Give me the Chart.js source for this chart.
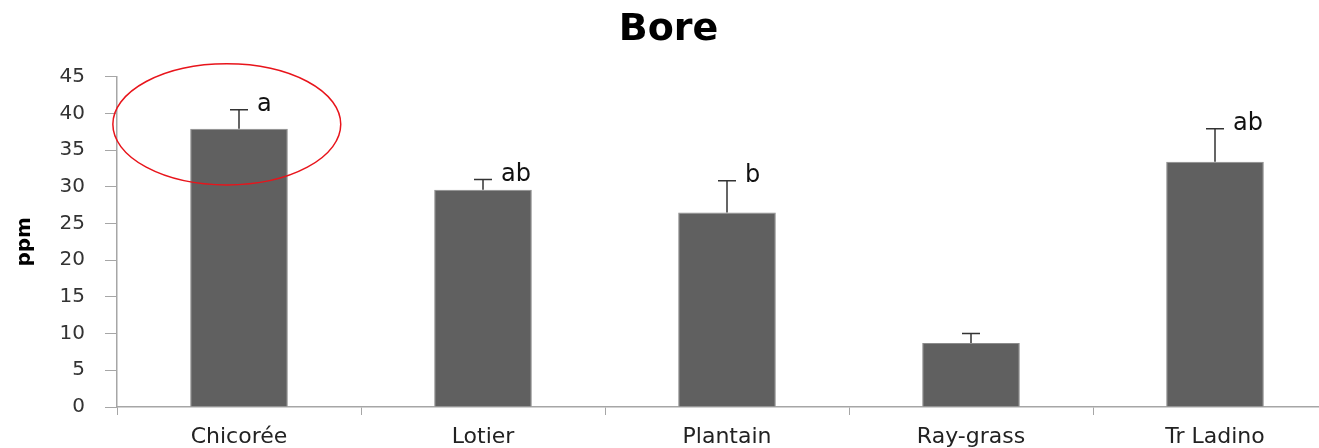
<!DOCTYPE html>
<html>
<head>
<meta charset="utf-8">
<script src="https://cdn.jsdelivr.net/npm/chart.js@4"></script>
<style>
  body { margin: 0; overflow: hidden; background: #fff; }
  #wrap { width: 1340px; height: 448px; }
</style>
</head>
<body>
<div id="wrap"><canvas id="boreChart" width="1340" height="448"></canvas></div>
<script>
// Data
const categories = ['Chicorée', 'Lotier', 'Plantain', 'Ray-grass', 'Tr Ladino'];
const boreValues = [37.9, 29.6, 26.5, 8.7, 33.4];
const boreErrors = [2.6, 1.4, 4.3, 1.3, 4.5];
const groupLetters = ['a', 'ab', 'b', '', 'ab'];
const yTicks = [0, 5, 10, 15, 20, 25, 30, 35, 40, 45];

// error bars, letters and the red circle around Chicorée
const extrasPlugin = {
  id: 'extras',
  afterDatasetsDraw(chart) {
    const { ctx, scales: { x, y } } = chart;
    const meta = chart.getDatasetMeta(0);
    ctx.save();
    meta.data.forEach((bar, i) => {
      const top = y.getPixelForValue(boreValues[i] + boreErrors[i]);
      ctx.strokeStyle = '#333';
      ctx.lineWidth = 1.5;
      ctx.beginPath();
      ctx.moveTo(bar.x, bar.y);
      ctx.lineTo(bar.x, top);
      ctx.moveTo(bar.x - 9, top);
      ctx.lineTo(bar.x + 9, top);
      ctx.stroke();

      if (groupLetters[i]) {
        ctx.fillStyle = '#111';
        ctx.font = '24px "DejaVu Sans"';
        ctx.textAlign = 'left';
        ctx.textBaseline = 'middle';
        ctx.fillText(groupLetters[i], bar.x + 18, top - 5);
      }
    });

    // red ellipse
    const catW = x.getPixelForValue(1) - x.getPixelForValue(0);
    const cx = x.getPixelForValue(0) - 0.05 * catW;
    const cy = y.getPixelForValue(38.5);
    const ry = y.getPixelForValue(38.5 - 8.25) - cy;
    ctx.strokeStyle = '#e8141b';
    ctx.lineWidth = 1.5;
    ctx.beginPath();
    ctx.ellipse(cx, cy, 0.467 * catW, ry, 0, 0, Math.PI * 2);
    ctx.stroke();
    ctx.restore();
  }
};

const ctx = document.getElementById('boreChart').getContext('2d');

new Chart(ctx, {
  type: 'bar',
  data: {
    labels: categories,
    datasets: [{
      label: 'Bore',
      data: boreValues,
      backgroundColor: '#606060',
      borderColor: '#8c8c8c',
      borderWidth: 1,
      categoryPercentage: 1,
      barPercentage: 0.4,
    }],
  },
  options: {
    responsive: false,
    animation: false,
    layout: { padding: { left: 0, right: 3, top: 0, bottom: 0 } },
    plugins: {
      legend: { display: false },
      tooltip: { enabled: false },
      title: {
        display: true,
        text: 'Bore',
        color: '#000',
        font: { family: 'DejaVu Sans', size: 38, weight: 'bold' },
        padding: { top: 7, bottom: 24 },
      },
    },
    scales: {
      x: {
        afterFit: (scale) => { scale.height = 41; },
        border: { color: '#a6a6a6', width: 1.5 },
        grid: { drawOnChartArea: false, tickLength: 8, color: '#a6a6a6', offset: true },
        ticks: {
          color: '#222',
          padding: 9,
          font: { family: 'DejaVu Sans', size: 22 },
        },
      },
      y: {
        min: 0,
        max: 45,
        afterFit: (scale) => { scale.width = 117; },
        afterBuildTicks: (scale) => { scale.ticks = yTicks.map(v => ({ value: v })); },
        border: { color: '#a6a6a6', width: 1.5 },
        grid: { drawOnChartArea: false, tickLength: 12, color: '#a6a6a6' },
        ticks: {
          color: '#333',
          padding: 20,
          font: { family: 'DejaVu Sans', size: 20 },
        },
        title: {
          display: true,
          text: 'ppm',
          color: '#000',
          padding: { top: 13, bottom: 0 },
          font: { family: 'DejaVu Sans', size: 20, weight: 'bold' },
        },
      },
    },
  },
  plugins: [extrasPlugin],
});
</script>
</body>
</html>
